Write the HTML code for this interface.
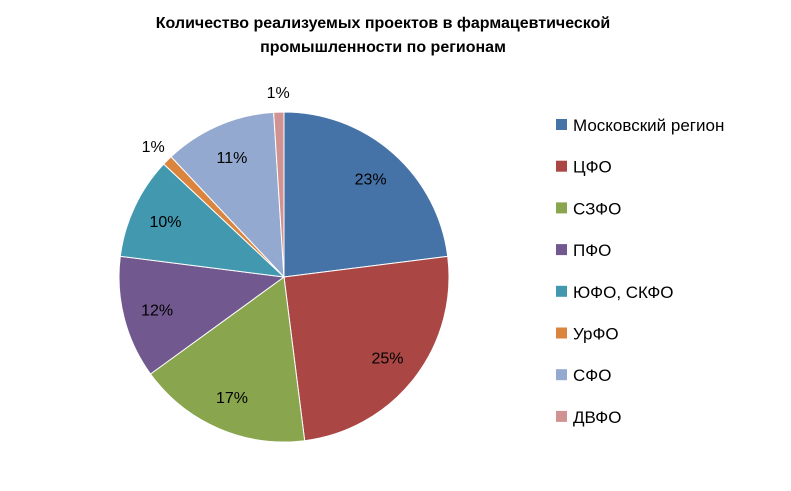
<!DOCTYPE html>
<html><head><meta charset="utf-8"><style>
body{margin:0;background:#fff;}
svg text{font-family:"Liberation Sans","DejaVu Sans",sans-serif;}
</style></head><body>
<svg width="791" height="486" viewBox="0 0 791 486">
<text x="383" y="28" text-anchor="middle" font-size="16" font-weight="bold" fill="#000">Количество реализуемых проектов в фармацевтической</text>
<text x="383" y="52" text-anchor="middle" font-size="16" font-weight="bold" fill="#000">промышленности по регионам</text>
<g id="slices"></g>
<g id="labels"></g>
<g id="legend"></g>
</svg>
<script>
const categories=["Московский регион","ЦФО","СЗФО","ПФО","ЮФО, СКФО","УрФО","СФО","ДВФО"];
const values=[23,25,17,12,10,1,11,1];
const colors=["#4572A7","#AA4643","#89A54E","#71588F","#4198AF","#DB843D","#93A9CF","#D19392"];
const ns="http://www.w3.org/2000/svg";
const cx=284,cy=277,r=165;
const total=values.reduce((a,b)=>a+b,0);
const gS=document.getElementById("slices"),gL=document.getElementById("labels"),gG=document.getElementById("legend");
function pt(a,d){return [cx+d*Math.sin(a),cy-d*Math.cos(a)];}
let cum=0;
values.forEach((v,i)=>{
  const a0=cum/total*2*Math.PI;cum+=v;const a1=cum/total*2*Math.PI;
  const p0=pt(a0,r),p1=pt(a1,r);
  const large=(a1-a0)>Math.PI?1:0;
  const p=document.createElementNS(ns,"path");
  p.setAttribute("d",`M${cx},${cy}L${p0[0]},${p0[1]}A${r},${r} 0 ${large} 1 ${p1[0]},${p1[1]}Z`);
  p.setAttribute("fill",colors[i]);p.setAttribute("stroke","#fff");p.setAttribute("stroke-width","1");
  
  
  gS.appendChild(p);
  const am=(a0+a1)/2;const pct=Math.round(v/total*100);
  const lp=pt(am,pct<3?185:131);
  const t=document.createElementNS(ns,"text");
  t.setAttribute("x",lp[0]);t.setAttribute("y",lp[1]+6);t.setAttribute("text-anchor","middle");
  t.setAttribute("font-size","16");t.setAttribute("fill","#000");
  t.textContent=pct+"%";
  
  
  gL.appendChild(t);
  const y=125+i*41.7;
  const g=document.createElementNS(ns,"g");
  
  
  const sq=document.createElementNS(ns,"rect");
  sq.setAttribute("x",556);sq.setAttribute("y",y-6);sq.setAttribute("width",11);sq.setAttribute("height",11);sq.setAttribute("fill",colors[i]);
  g.appendChild(sq);
  const lt=document.createElementNS(ns,"text");
  lt.setAttribute("x",573);lt.setAttribute("y",y+6);lt.setAttribute("font-size","17");lt.setAttribute("fill","#000");
  lt.textContent=categories[i];
  g.appendChild(lt);
  gG.appendChild(g);
});
</script>
</body></html>
